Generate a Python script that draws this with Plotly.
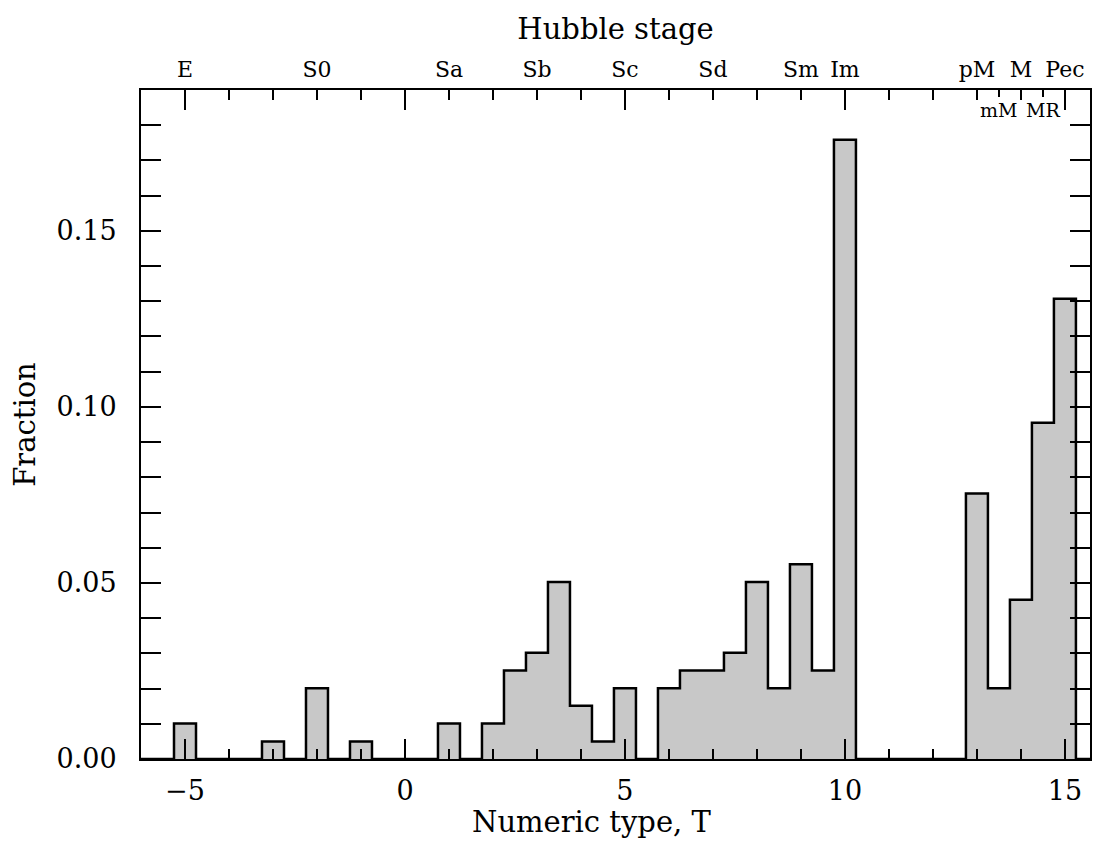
import numpy as np
import plotly.graph_objects as go

# Numeric type T (bin centres, width 0.5) and fraction of galaxies
t_centres = [-5, -3, -2, -1, 1, 2, 2.5, 3, 3.5, 4, 4.5, 5, 6, 6.5, 7, 7.5, 8, 8.5, 9, 9.5, 10,
             13, 13.5, 14, 14.5, 15]
fraction = [0.0101, 0.0050, 0.0201, 0.0050, 0.0101, 0.0101, 0.0251, 0.0302, 0.0503, 0.0151,
            0.0050, 0.0201, 0.0201, 0.0251, 0.0251, 0.0302, 0.0503, 0.0201, 0.0553, 0.0251,
            0.1759, 0.0754, 0.0201, 0.0452, 0.0955, 0.1307]
bin_width = 0.5

# Hubble stage labels (top axis)
stage_pos = [-5, -2, 1, 3, 5, 7, 9, 10, 13, 14, 15]
stage_txt = ["E", "S0", "Sa", "Sb", "Sc", "Sd", "Sm", "Im", "pM", "M", "Pec"]
stage_low_pos = [13.5, 14.5]
stage_low_txt = ["mM", "MR"]

x_range = [-6.0, 15.57]
y_range = [0.0, 0.19]

# build step outline from the histogram bins
grid = np.arange(-5.0, 15.0 + 0.25, bin_width)
lookup = {float(c): v for c, v in zip(t_centres, fraction)}
vals = [lookup.get(float(round(g * 2) / 2), 0.0) for g in grid]
xs = [x_range[0]] + [g - bin_width / 2 for g in grid] + [grid[-1] + bin_width / 2, x_range[1]]
ys = [0.0] + vals + [0.0, 0.0]

FONT = "DejaVu Serif"

fig = go.Figure()
fig.add_trace(go.Scatter(
    x=xs, y=ys, mode="lines", line=dict(shape="hv", color="black", width=2.5),
    fill="tozeroy", fillcolor="rgb(200,200,200)", showlegend=False, hoverinfo="skip",
))
# dummy trace for top axis
fig.add_trace(go.Scatter(x=[x_range[0]], y=[0], xaxis="x2", mode="markers",
                         marker=dict(opacity=0), showlegend=False, hoverinfo="skip"))

tick_common = dict(ticks="inside", tickcolor="black", tickwidth=1.5, showgrid=False,
                   zeroline=False, showline=True, linecolor="black", linewidth=2,
                   automargin=False)

fig.update_layout(
    width=1095, height=840,
    margin=dict(l=133, r=13, t=82, b=89),
    paper_bgcolor="white", plot_bgcolor="white",
    font=dict(family=FONT, color="black"),
    xaxis=dict(
        range=x_range, tickmode="array", tickvals=[-5, 0, 5, 10, 15],
        ticklen=20, mirror="allticks",
        minor=dict(tickmode="array", tickvals=list(range(-5, 16)), ticklen=10,
                   ticks="inside", tickcolor="black", tickwidth=1.5),
        tickfont=dict(size=27, family=FONT),
        ticklabelstandoff=7,
        **tick_common,
    ),
    xaxis2=dict(
        overlaying="x", side="top", range=x_range, tickmode="array",
        tickvals=stage_pos, ticktext=stage_txt, ticks="", ticklen=0,
        showline=False, showgrid=False, zeroline=False, automargin=False,
        minor=dict(tickmode="array", tickvals=stage_low_pos, ticklen=7,
                   ticks="inside", tickcolor="black", tickwidth=1.5),
        tickfont=dict(size=22, family=FONT),
        ticklabelstandoff=8,
        title=dict(text="Hubble stage", font=dict(size=29, family=FONT), standoff=8),
    ),
    yaxis=dict(
        range=y_range, tickmode="array", tickvals=[0, 0.05, 0.10, 0.15],
        tickformat=".2f", ticklen=20, mirror="allticks",
        minor=dict(tickmode="array", tickvals=[i / 100 for i in range(0, 19)], ticklen=10,
                   ticks="inside", tickcolor="black", tickwidth=1.5),
        tickfont=dict(size=27, family=FONT),
        title=dict(text="Fraction", font=dict(size=29, family=FONT), standoff=16),
        ticklabelstandoff=17,
        **tick_common,
    ),
)

for p, t in zip(stage_low_pos, stage_low_txt):
    fig.add_annotation(x=p, y=1, xref="x", yref="paper", text=t, showarrow=False,
                       yanchor="top", yshift=-7, font=dict(size=19, family=FONT))

fig.add_annotation(x=0.475, y=0, xref="paper", yref="paper", text="Numeric type, T",
                   showarrow=False, yanchor="middle", yshift=-63,
                   font=dict(size=29, family=FONT))

fig.write_html("out.html")
